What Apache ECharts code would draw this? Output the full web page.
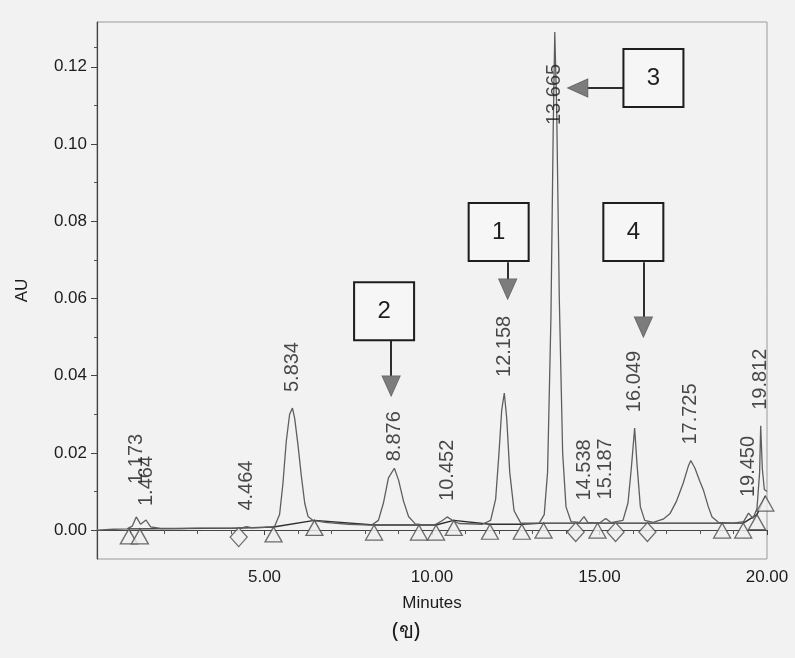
<!DOCTYPE html>
<html>
<head>
<meta charset="utf-8">
<script src="https://cdn.jsdelivr.net/npm/echarts@6/dist/echarts.min.js"></script>
<style>
html,body{margin:0;padding:0;background:#f2f2f2;}
#chart{width:795px;height:658px;}
</style>
</head>
<body>
<div id="chart"></div>
<script>
// ---- data ----
const traceTime = [0.0,0.5,0.9,1.05,1.173,1.30,1.464,1.60,1.9,2.5,3.0,3.5,4.0,4.35,4.464,4.6,5.0,5.3,5.45,5.55,5.65,5.75,5.834,5.90,6.0,6.1,6.2,6.3,6.45,6.8,7.5,8.2,8.4,8.55,8.7,8.876,9.0,9.15,9.3,9.5,9.8,10.1,10.3,10.452,10.6,10.8,11.5,11.75,11.9,12.0,12.08,12.158,12.23,12.32,12.45,12.65,13.2,13.35,13.45,13.55,13.62,13.665,13.72,13.8,13.9,14.0,14.15,14.4,14.538,14.65,15.0,15.187,15.35,15.7,15.85,15.95,16.049,16.12,16.22,16.35,16.6,16.9,17.1,17.3,17.5,17.65,17.725,17.85,18.0,18.1,18.25,18.36,18.55,19.0,19.3,19.45,19.58,19.7,19.78,19.812,19.86,19.92,20.0];
const traceAU = [0.0000,0.0002,0.0003,0.0010,0.0034,0.0015,0.0026,0.0008,0.0004,0.0004,0.0005,0.0005,0.0005,0.0006,0.0009,0.0006,0.0007,0.0009,0.0040,0.0120,0.0230,0.0300,0.0316,0.0290,0.0220,0.0140,0.0070,0.0035,0.0025,0.0020,0.0015,0.0013,0.0025,0.0070,0.0135,0.0160,0.0130,0.0075,0.0035,0.0016,0.0013,0.0014,0.0024,0.0034,0.0026,0.0017,0.0015,0.0025,0.0080,0.0200,0.0310,0.0355,0.0290,0.0150,0.0050,0.0018,0.0018,0.0040,0.0150,0.0550,0.1050,0.1290,0.1100,0.0600,0.0200,0.0060,0.0022,0.0020,0.0035,0.0020,0.0018,0.0030,0.0019,0.0025,0.0070,0.0160,0.0264,0.0170,0.0060,0.0025,0.0020,0.0028,0.0042,0.0075,0.0122,0.0165,0.0180,0.0160,0.0125,0.0104,0.0060,0.0034,0.0020,0.0018,0.0022,0.0044,0.0030,0.0055,0.0150,0.0270,0.0160,0.0105,0.0100];

const peakRT = [1.173,1.464,4.464,5.834,8.876,10.452,12.158,13.665,14.538,15.187,16.049,17.725,19.450,19.812];
const peakAU = [0.0034,0.0026,0.0009,0.0316,0.0160,0.0034,0.0355,0.1290,0.0035,0.0030,0.0264,0.0180,0.0044,0.0270];

// integration baseline points and their markers
const baseRT = [0.95,1.28,4.23,5.27,6.49,8.27,9.61,10.12,10.65,11.73,12.68,13.33,14.29,14.94,15.48,16.43,18.66,19.29,19.70,19.95];
const baseAU = [0.0003,0.0003,0.0005,0.0008,0.0025,0.0013,0.0013,0.0013,0.0025,0.0015,0.0015,0.0018,0.0018,0.0018,0.0018,0.0018,0.0018,0.0018,0.0040,0.0088];
const baseMark = ['t','t','d','t','t','t','t','t','t','t','t','t','d','t','d','d','t','t','t','t'];

const xTicks = [5, 10, 15, 20];
const yTicks = [0, 0.02, 0.04, 0.06, 0.08, 0.10, 0.12];
const yMinorTicks = [0.01, 0.03, 0.05, 0.07, 0.09, 0.11, 0.125];

// annotation boxes (peak numbers) and arrows
const boxLabels = ['1','2','3','4'];
const boxRT = [11.99, 8.57, 16.61, 16.01];
const boxAU = [0.0772, 0.0567, 0.1171, 0.0772];
const arrowFrom = [[12.26,0.0694],[8.78,0.0492],[15.71,0.1145],[16.31,0.0694]];
const arrowTo   = [[12.26,0.0648],[8.78,0.0394],[14.64,0.1145],[16.31,0.0549]];
const arrowHead = [[12.26,0.0624],[8.78,0.0373],[14.35,0.1145],[16.31,0.0526]];
const arrowRot  = [180, 180, 90, 180];

// per-label pixel nudges (styling only; first value moves along the rotated text: + = up)
const labelNudge = {'1.173':[17,0], '1.464':[-2,0], '8.876':[-9,0], '13.665':[-109,0], '15.187':[3,0]};

const FONT = "'Liberation Sans', Arial, sans-serif";
const INK = '#1c1c1c';

const chart = echarts.init(document.getElementById('chart'), null, {renderer:'canvas'});

const trace = traceTime.map((t,i)=>[t, traceAU[i]]);
const basePts = baseRT.map((t,i)=>[t, baseAU[i]]);
const triPts = baseRT.map((t,i)=>baseMark[i]==='t'?[t, baseAU[i]]:null).filter(Boolean);
const diaPts = baseRT.map((t,i)=>baseMark[i]==='d'?[t, baseAU[i]]:null).filter(Boolean);

const peakLabelData = peakRT.map((t,i)=>{
  const key = t.toFixed(3);
  const nudge = labelNudge[key];
  const d = {value:[t, peakAU[i]], name:key};
  if (nudge) d.label = {offset: nudge};
  return d;
});

const boxMarks = boxLabels.map((s,i)=>({name:s, coord:[boxRT[i], boxAU[i]]}));
const headMarks = arrowHead.map((c,i)=>({coord:c, symbolRotate: arrowRot[i]}));
const shaftLines = arrowFrom.map((c,i)=>[{coord:c},{coord:arrowTo[i]}]);

chart.setOption({
  backgroundColor: '#f2f2f2',
  animation: false,
  grid: {left: 97, right: 28, top: 22, bottom: 99, show: true, borderColor: '#9a9a9a', borderWidth: 1, backgroundColor: 'transparent'},
  xAxis: {
    type: 'value', min: 0, max: 20, interval: 5,
    name: 'Minutes', nameLocation: 'middle', nameGap: 36,
    nameTextStyle: {fontFamily: FONT, fontSize: 17, color: INK},
    axisLine: {show: true, lineStyle: {color: '#444', width: 1.2}},
    axisTick: {show: true, length: 5, lineStyle: {color: '#444'}},
    minorTick: {show: true, splitNumber: 5, length: 4, lineStyle: {color: '#555'}},
    axisLabel: {fontFamily: FONT, fontSize: 17, color: INK, margin: 10,
      formatter: v => xTicks.indexOf(v) >= 0 ? v.toFixed(2) : ''},
    splitLine: {show: false}
  },
  yAxis: [{
    type: 'value', min: -0.0075, max: 0.1316,
    name: 'AU', nameLocation: 'middle', nameGap: 66, nameRotate: 90,
    nameTextStyle: {fontFamily: FONT, fontSize: 17, color: INK},
    axisLine: {show: true, lineStyle: {color: '#444', width: 1.2}},
    axisTick: {show: true, length: 6, customValues: yTicks, lineStyle: {color: '#444'}},
    axisLabel: {fontFamily: FONT, fontSize: 17, color: INK, margin: 10, customValues: yTicks,
      formatter: v => v.toFixed(2)},
    splitLine: {show: false}
  },{
    type: 'value', min: -0.0075, max: 0.1316, position: 'left',
    axisLine: {show: false},
    axisTick: {show: true, length: 3, customValues: yMinorTicks, lineStyle: {color: '#555'}},
    axisLabel: {show: false, customValues: yMinorTicks},
    splitLine: {show: false}
  }],
  series: [
    {
      name: 'trace', type: 'line', data: trace, showSymbol: false, symbol: 'none',
      lineStyle: {color: '#5e5e5e', width: 1.3}, z: 3,
      markLine: {
        silent: true, symbol: ['none','none'], animation: false,
        lineStyle: {color: '#2e2e2e', width: 2, type: 'solid'},
        label: {show: false},
        data: shaftLines
      },
      markPoint: {
        silent: true, animation: false,
        symbol: 'triangle', symbolSize: [18, 20],
        itemStyle: {color: '#7c7c7c', borderColor: '#6a6a6a', borderWidth: 1},
        label: {show: false},
        data: headMarks
      }
    },
    {
      name: 'baseline', type: 'line', data: basePts, showSymbol: false, symbol: 'none',
      lineStyle: {color: '#2e2e2e', width: 1.4}, z: 2
    },
    {
      name: 'start/end', type: 'scatter', data: triPts, symbol: 'triangle',
      symbolSize: [17, 15], symbolOffset: [0, 7.5],
      itemStyle: {color: '#efefef', borderColor: '#4a4a4a', borderWidth: 1.3}, z: 4
    },
    {
      name: 'drop', type: 'scatter', data: diaPts, symbol: 'diamond',
      symbolSize: [17, 19], symbolOffset: [0, 9],
      itemStyle: {color: '#efefef', borderColor: '#4a4a4a', borderWidth: 1.3}, z: 4
    },
    {
      name: 'peaks', type: 'scatter', data: peakLabelData, symbolSize: 0, z: 6,
      label: {show: true, position: 'top', distance: 16, rotate: 90, align: 'left', verticalAlign: 'middle',
        fontFamily: FONT, fontSize: 20, color: INK, formatter: p => p.name}
    },
    {
      name: 'boxes', type: 'scatter', data: [], z: 8,
      markPoint: {
        silent: true, animation: false,
        symbol: 'rect', symbolSize: [60, 58],
        itemStyle: {color: '#f6f6f6', borderColor: '#1e1e1e', borderWidth: 2},
        label: {show: true, position: 'inside', fontFamily: FONT, fontSize: 24, color: '#1e1e1e', formatter: p => p.name},
        data: boxMarks
      }
    }
  ],
  graphic: [{
    type: 'text', left: 392, top: 621, z: 10,
    style: {text: '(ข)', fontSize: 22, fill: INK, fontFamily: "'Noto Sans', 'DejaVu Sans', sans-serif"}
  }]
});
</script>
</body>
</html>
